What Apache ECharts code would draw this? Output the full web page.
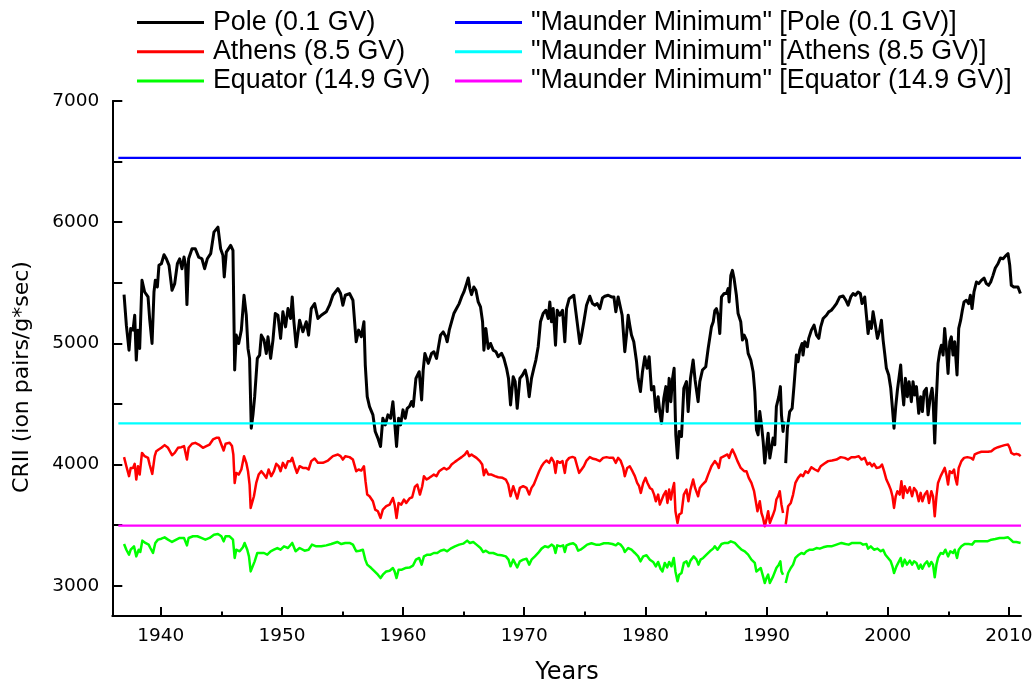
<!DOCTYPE html>
<html>
<head>
<meta charset="utf-8">
<script src="https://cdn.jsdelivr.net/npm/echarts@6/dist/echarts.min.js"></script>
<style>
html,body{margin:0;padding:0;background:#fff;}
#chart{width:1035px;height:684px;}
</style>
</head>
<body>
<div id="chart"></div>
<script>
// ---- data (year, CRII) ----
const poleData = [
[1936.97,5402],[1937.16,5150],[1937.38,4944],[1937.52,5123],[1937.71,5109],[1937.85,5232],[1937.98,4862],[1938.12,5109],[1938.26,4958],[1938.45,5520],[1938.67,5424],[1938.95,5383],[1939.08,5205],[1939.28,4999],[1939.44,5424],[1939.55,5520],[1939.72,5465],[1939.85,5644],[1940.05,5657],[1940.27,5731],[1940.46,5698],[1940.68,5644],[1940.93,5438],[1941.15,5493],[1941.37,5657],[1941.56,5698],[1941.75,5616],[1941.92,5712],[1942.05,5644],[1942.16,5320],[1942.30,5698],[1942.58,5781],[1942.85,5781],[1943.13,5712],[1943.40,5698],[1943.62,5616],[1943.84,5698],[1944.12,5740],[1944.39,5918],[1944.72,5959],[1944.94,5781],[1945.13,5726],[1945.24,5548],[1945.41,5753],[1945.77,5808],[1945.96,5767],[1946.10,4780],[1946.23,5068],[1946.43,4999],[1946.65,5109],[1946.87,5397],[1947.06,5232],[1947.20,4958],[1947.33,4876],[1947.47,4300],[1947.61,4410],[1947.75,4560],[1947.97,4876],[1948.16,4903],[1948.30,5068],[1948.52,5027],[1948.71,4917],[1948.85,5054],[1949.07,4876],[1949.26,5027],[1949.45,5246],[1949.67,5232],[1949.89,5041],[1950.08,5260],[1950.30,5136],[1950.50,5287],[1950.72,5205],[1950.85,5383],[1950.99,5178],[1951.18,4972],[1951.46,5191],[1951.73,5095],[1952.01,5178],[1952.20,5068],[1952.42,5287],[1952.70,5328],[1952.97,5205],[1953.25,5232],[1953.66,5260],[1953.93,5315],[1954.21,5397],[1954.62,5452],[1954.84,5411],[1955.03,5315],[1955.23,5397],[1955.58,5411],[1955.86,5356],[1956.13,5013],[1956.33,5109],[1956.55,5054],[1956.77,5178],[1956.88,4821],[1957.04,4560],[1957.23,4478],[1957.51,4410],[1957.70,4273],[1957.92,4218],[1958.14,4149],[1958.33,4382],[1958.53,4327],[1958.75,4410],[1958.97,4382],[1959.16,4519],[1959.30,4355],[1959.46,4149],[1959.63,4382],[1959.79,4327],[1959.99,4451],[1960.18,4382],[1960.34,4464],[1960.53,4480],[1960.70,4519],[1960.84,4480],[1961.06,4711],[1961.33,4766],
[1961.53,4533],[1961.66,4780],[1961.80,4917],[1962.08,4835],[1962.35,4917],[1962.54,4931],[1962.76,4876],[1962.90,4958],[1963.09,5068],[1963.31,5095],[1963.53,5054],[1963.64,5013],[1963.81,5109],[1964.00,5178],[1964.19,5246],[1964.41,5287],[1964.63,5328],[1964.83,5383],[1965.02,5424],[1965.24,5493],[1965.38,5539],[1965.51,5452],[1965.65,5402],[1965.84,5465],[1966.01,5438],[1966.20,5342],[1966.39,5301],[1966.56,5178],[1966.67,4944],[1966.83,5123],[1967.03,4958],[1967.22,4999],[1967.44,4944],[1967.66,4931],[1967.85,4890],[1968.13,4917],[1968.32,4876],[1968.54,4794],[1968.70,4711],[1968.87,4492],[1969.09,4725],[1969.25,4684],[1969.42,4464],[1969.64,4711],[1969.86,4739],[1970.08,4780],[1970.24,4711],[1970.41,4560],[1970.60,4711],[1970.79,4794],[1970.96,4862],[1971.15,4972],[1971.34,5178],[1971.56,5246],[1971.78,5273],[1971.98,5205],[1972.11,5342],[1972.25,5178],[1972.39,5287],[1972.58,4985],[1972.72,5273],[1972.94,5232],[1973.16,5273],[1973.35,5013],[1973.49,5287],[1973.71,5369],[1973.90,5383],[1974.09,5397],[1974.26,5260],[1974.45,5109],[1974.59,4999],[1974.73,5068],[1974.92,5178],[1975.14,5315],[1975.41,5389],[1975.63,5328],[1975.83,5315],[1976.02,5328],[1976.24,5287],[1976.46,5375],[1976.65,5389],[1976.93,5397],[1977.20,5383],[1977.40,5383],[1977.56,5260],[1977.75,5383],[1977.89,5369],[1978.08,5232],[1978.30,4931],[1978.44,5068],[1978.58,5232],[1978.71,5150],[1978.85,5068],[1979.04,5013],[1979.27,4848],[1979.40,4711],[1979.59,4602],[1979.76,4766],[1979.95,4890],[1980.14,4794],[1980.31,4890],[1980.50,4615],[1980.69,4643],[1980.86,4437],[1981.05,4560],[1981.19,4437],[1981.33,4341],[1981.52,4547],[1981.69,4643],[1981.80,4437],[1981.96,4711],[1982.10,4519],[1982.24,4711],[1982.37,4794],[1982.51,4245],[1982.65,4053],[1982.79,4273],[1982.98,4231],[1983.17,4629],[1983.39,4684],[1983.53,4437],[1983.72,4711],[1983.94,4862],[1984.10,4698],[1984.35,4519],[1984.49,4684],[1984.71,4780],[1984.98,4807],[1985.18,4958],[1985.45,5136],[1985.60,5178],
[1985.73,5270],[1985.86,5287],[1986.00,5232],[1986.14,5081],[1986.28,5383],[1986.50,5411],[1986.69,5411],[1986.83,5452],[1986.91,5342],[1987.05,5561],[1987.18,5602],[1987.32,5534],[1987.51,5397],[1987.65,5246],[1987.87,5178],[1988.01,5027],[1988.15,5068],[1988.34,5027],[1988.48,4917],[1988.70,4862],[1988.89,4766],[1989.03,4602],[1989.17,4286],[1989.30,4245],[1989.44,4437],[1989.58,4327],[1989.72,4190],[1989.85,4012],[1989.99,4135],[1990.13,4259],[1990.27,4053],[1990.40,4040],[1990.54,4218],[1990.68,4163],[1990.81,4478],[1991.01,4560],[1991.14,4643],[1991.23,4410],[1991.36,4273],[1991.45,4355],[1991.50,'-'],
[1991.58,4012],[1991.72,4300],[1991.91,4437],[1992.11,4464],[1992.27,4656],[1992.46,4903],[1992.60,4848],[1992.74,4944],[1992.93,4999],[1993.01,4903],[1993.15,5013],[1993.37,4972],[1993.48,5041],[1993.70,5109],[1993.92,5150],[1994.12,5068],[1994.31,5041],[1994.47,5136],[1994.67,5205],[1994.94,5232],[1995.13,5260],[1995.35,5273],[1995.57,5301],[1995.77,5328],[1996.04,5383],[1996.32,5391],[1996.54,5356],[1996.73,5315],[1996.95,5383],[1997.14,5411],[1997.33,5397],[1997.55,5424],[1997.74,5411],[1997.88,5328],[1998.10,5383],[1998.24,5232],[1998.38,5081],[1998.51,5178],[1998.65,5123],[1998.79,5260],[1998.98,5150],[1999.15,5041],[1999.34,5109],[1999.48,5191],[1999.62,5027],[1999.75,4917],[1999.89,4794],[2000.08,4739],[2000.25,4629],[2000.39,4464],[2000.52,4300],[2000.66,4478],[2000.80,4615],[2000.94,4602],[2001.07,4821],[2001.18,4643],[2001.32,4492],[2001.46,4711],[2001.62,4560],[2001.76,4684],[2001.95,4519],[2002.09,4684],[2002.23,4574],[2002.37,4643],[2002.56,4423],[2002.72,4560],[2002.86,4437],[2003.00,4602],[2003.19,4629],[2003.33,4410],[2003.52,4560],[2003.66,4629],[2003.74,4547],[2003.88,4177],[2004.02,4560],[2004.15,4835],[2004.29,4931],[2004.43,4985],[2004.57,4903],[2004.70,5123],[2004.84,4958],[2004.98,4752],[2005.12,5013],[2005.25,5054],[2005.39,4903],[2005.53,5013],[2005.72,4739],[2005.86,5123],[2006.02,5191],[2006.16,5273],[2006.30,5342],[2006.49,5356],[2006.68,5328],[2006.82,5397],[2006.96,5287],[2007.12,5424],[2007.32,5506],[2007.51,5493],[2007.73,5520],[2007.95,5539],[2008.14,5493],[2008.33,5479],[2008.50,5506],[2008.69,5561],[2008.88,5622],[2009.10,5657],[2009.30,5704],[2009.52,5698],[2009.71,5720],[2009.93,5740],[2010.07,5644],[2010.20,5479],[2010.40,5465],[2010.56,5452],[2010.75,5465],[2010.95,5411]
];

const athensData = [
[1936.97,4061],[1937.16,3986],[1937.38,3904],[1937.52,3972],[1937.71,3972],[1937.85,4006],[1937.98,3876],[1938.12,3986],[1938.26,3917],[1938.45,4096],[1938.67,4069],[1938.95,4055],[1939.08,4000],[1939.30,3923],[1939.50,4069],[1939.63,4110],[1939.83,4124],[1940.05,4138],[1940.32,4160],[1940.60,4138],[1940.93,4077],[1941.15,4096],[1941.42,4138],[1941.70,4143],[1941.92,4152],[1942.05,4138],[1942.16,4041],[1942.30,4138],[1942.58,4171],[1942.85,4179],[1943.13,4165],[1943.48,4138],[1943.76,4152],[1944.03,4165],[1944.31,4207],[1944.58,4220],[1944.80,4220],[1945.00,4165],[1945.19,4116],[1945.35,4171],[1945.68,4179],[1945.88,4152],[1945.99,4083],[1946.10,3848],[1946.23,3931],[1946.43,3917],[1946.65,3959],[1946.87,4069],[1947.06,4014],[1947.20,3945],[1947.33,3835],[1947.42,3642],[1947.55,3656],[1947.69,3738],[1947.88,3848],[1948.08,3917],[1948.30,3945],[1948.52,3917],[1948.71,3890],[1948.90,3959],[1949.12,3904],[1949.34,3945],[1949.53,4006],[1949.73,3986],[1949.89,3945],[1950.08,4014],[1950.30,3972],[1950.50,4028],[1950.72,4028],[1950.85,4055],[1951.05,3986],[1951.24,3931],[1951.46,3986],[1951.73,3972],[1952.01,3972],[1952.20,3959],[1952.42,4028],[1952.70,4050],[1952.97,4014],[1953.38,4014],[1953.80,4033],[1954.21,4069],[1954.62,4083],[1954.84,4069],[1955.03,4041],[1955.23,4069],[1955.58,4061],[1955.86,4041],[1956.13,3945],[1956.33,3959],[1956.55,3950],[1956.77,3986],[1956.90,3862],[1957.04,3752],[1957.23,3738],[1957.51,3697],[1957.70,3628],[1957.92,3614],[1958.14,3559],[1958.33,3628],[1958.61,3656],[1958.89,3669],[1959.16,3724],[1959.30,3669],[1959.46,3559],[1959.63,3683],[1959.85,3669],[1960.07,3711],[1960.26,3683],[1960.53,3720],[1960.75,3730],[1960.97,3815],[1961.17,3835],[1961.39,3752],
[1961.58,3821],[1961.72,3904],[1961.94,3876],[1962.16,3890],[1962.35,3904],[1962.54,3917],[1962.76,3904],[1962.98,3945],[1963.18,3959],[1963.37,3972],[1963.59,3959],[1963.81,3972],[1964.00,4000],[1964.28,4022],[1964.55,4041],[1964.83,4061],[1965.10,4083],[1965.29,4110],[1965.46,4069],[1965.65,4083],[1965.84,4069],[1966.06,4055],[1966.34,4028],[1966.53,4000],[1966.67,3912],[1966.83,3959],[1967.03,3917],[1967.30,3917],[1967.58,3904],[1967.85,3895],[1968.21,3890],[1968.48,3876],[1968.68,3835],[1968.87,3738],[1969.09,3821],[1969.25,3807],[1969.42,3719],[1969.64,3807],[1969.91,3821],[1970.19,3807],[1970.41,3752],[1970.60,3807],[1970.79,3835],[1971.01,3890],[1971.23,3945],[1971.43,3986],[1971.62,4014],[1971.84,4033],[1972.06,4014],[1972.25,4055],[1972.44,4022],[1972.58,3931],[1972.72,4028],[1972.94,4014],[1973.16,4028],[1973.35,3931],[1973.49,4028],[1973.71,4055],[1973.98,4063],[1974.18,4055],[1974.37,3986],[1974.53,3931],[1974.73,3959],[1974.92,3986],[1975.14,4033],[1975.41,4061],[1975.69,4047],[1975.96,4041],[1976.24,4028],[1976.51,4055],[1976.79,4061],[1977.06,4055],[1977.34,4055],[1977.56,4014],[1977.75,4055],[1977.95,4033],[1978.17,3972],[1978.30,3904],[1978.50,3972],[1978.71,3986],[1978.93,3945],[1979.13,3904],[1979.32,3848],[1979.48,3821],[1979.62,3766],[1979.82,3848],[1980.01,3890],[1980.17,3848],[1980.37,3807],[1980.56,3793],[1980.72,3752],[1980.86,3697],[1981.05,3752],[1981.19,3669],[1981.33,3656],[1981.52,3752],[1981.69,3780],[1981.82,3683],[1981.96,3793],[1982.10,3711],[1982.24,3793],[1982.37,3848],[1982.48,3614],[1982.65,3518],[1982.79,3587],[1982.98,3600],[1983.17,3752],[1983.39,3793],[1983.55,3697],[1983.72,3793],[1983.94,3876],[1984.10,3807],[1984.35,3738],[1984.49,3807],[1984.71,3835],[1984.98,3862],[1985.18,3917],[1985.45,3986],
[1985.73,4028],[1985.95,4000],[1986.06,3972],[1986.22,4055],[1986.50,4069],[1986.77,4083],[1986.91,4055],[1987.05,4096],[1987.18,4124],[1987.38,4083],[1987.60,4028],[1987.87,3972],[1988.15,3945],[1988.34,3945],[1988.53,3890],[1988.75,3848],[1988.97,3780],[1989.11,3697],[1989.25,3614],[1989.44,3697],[1989.58,3600],[1989.71,3559],[1989.85,3490],[1989.99,3545],[1990.13,3614],[1990.27,3518],[1990.40,3504],[1990.54,3587],[1990.68,3628],[1990.81,3711],[1990.95,3738],[1991.09,3780],[1991.23,3669],[1991.36,3600],[1991.47,'-'],
[1991.58,3504],[1991.78,3656],[1992.00,3683],[1992.19,3752],[1992.38,3848],[1992.60,3890],[1992.82,3917],[1993.01,3904],[1993.21,3945],[1993.43,3931],[1993.70,3978],[1993.98,3959],[1994.25,3945],[1994.47,3986],[1994.75,4006],[1995.08,4028],[1995.41,4033],[1995.77,4041],[1996.12,4061],[1996.45,4055],[1996.73,4041],[1997.00,4061],[1997.33,4061],[1997.61,4069],[1997.83,4041],[1998.10,4055],[1998.32,4000],[1998.51,4014],[1998.71,3986],[1998.87,4006],[1999.07,3972],[1999.34,3978],[1999.53,4000],[1999.70,3945],[1999.89,3876],[2000.08,3835],[2000.25,3793],[2000.39,3738],[2000.52,3642],[2000.66,3738],[2000.80,3780],[2000.99,3752],[2001.13,3862],[2001.27,3724],[2001.40,3821],[2001.62,3766],[2001.82,3813],[2002.01,3738],[2002.17,3807],[2002.37,3780],[2002.56,3697],[2002.72,3766],[2002.86,3697],[2003.05,3752],[2003.25,3780],[2003.41,3683],[2003.60,3780],[2003.74,3738],[2003.88,3573],[2004.02,3738],[2004.15,3848],[2004.37,3904],[2004.51,3890],[2004.70,3972],[2004.84,3917],[2004.98,3835],[2005.12,3945],[2005.31,3931],[2005.47,3959],[2005.58,3890],[2005.72,3835],[2005.86,3972],[2006.08,4028],[2006.30,4055],[2006.57,4061],[2006.85,4055],[2007.04,4041],[2007.18,4083],[2007.45,4096],[2007.73,4105],[2008.00,4105],[2008.28,4105],[2008.55,4110],[2008.83,4132],[2009.10,4143],[2009.38,4152],[2009.65,4160],[2009.93,4165],[2010.07,4138],[2010.20,4096],[2010.42,4083],[2010.62,4088],[2010.81,4083],[2010.97,4069]
];

const equatorData = [
[1936.97,3344],[1937.16,3297],[1937.38,3256],[1937.52,3297],[1937.79,3325],[1937.98,3242],[1938.18,3297],[1938.31,3278],[1938.48,3372],[1938.73,3353],[1939.00,3339],[1939.14,3311],[1939.36,3270],[1939.55,3353],[1939.77,3380],[1940.05,3388],[1940.32,3399],[1940.60,3380],[1940.93,3361],[1941.28,3380],[1941.56,3394],[1941.92,3394],[1942.05,3388],[1942.16,3333],[1942.30,3394],[1942.66,3408],[1943.02,3408],[1943.35,3394],[1943.68,3380],[1944.03,3394],[1944.39,3421],[1944.72,3427],[1945.00,3408],[1945.19,3366],[1945.35,3408],[1945.68,3408],[1945.96,3380],[1946.10,3229],[1946.23,3297],[1946.51,3284],[1946.78,3317],[1946.92,3353],[1947.14,3297],[1947.28,3242],[1947.42,3118],[1947.55,3132],[1947.75,3201],[1947.97,3270],[1948.24,3270],[1948.52,3270],[1948.79,3256],[1949.07,3284],[1949.34,3297],[1949.62,3311],[1949.89,3297],[1950.17,3325],[1950.50,3311],[1950.85,3353],[1951.13,3284],[1951.46,3311],[1951.87,3289],[1952.20,3297],[1952.48,3339],[1952.83,3325],[1953.25,3325],[1953.66,3333],[1954.07,3344],[1954.57,3361],[1954.90,3344],[1955.23,3353],[1955.58,3353],[1955.86,3339],[1956.13,3284],[1956.41,3289],[1956.68,3297],[1956.88,3215],[1957.04,3174],[1957.37,3146],[1957.65,3118],[1957.92,3091],[1958.14,3063],[1958.33,3091],[1958.61,3118],[1958.89,3124],[1959.16,3146],[1959.30,3118],[1959.46,3063],[1959.63,3132],[1959.90,3132],[1960.18,3146],[1960.53,3150],[1960.81,3165],[1961.06,3215],[1961.33,3229],
[1961.53,3174],[1961.72,3242],[1962.00,3256],[1962.27,3256],[1962.54,3270],[1962.82,3270],[1963.09,3289],[1963.37,3297],[1963.64,3284],[1963.92,3306],[1964.28,3325],[1964.63,3339],[1964.96,3347],[1965.29,3372],[1965.51,3353],[1965.79,3361],[1966.06,3339],[1966.39,3311],[1966.61,3278],[1966.83,3289],[1967.11,3270],[1967.44,3270],[1967.77,3256],[1968.13,3251],[1968.48,3242],[1968.70,3215],[1968.87,3160],[1969.09,3215],[1969.25,3201],[1969.42,3151],[1969.64,3201],[1969.91,3215],[1970.19,3223],[1970.41,3174],[1970.60,3215],[1970.88,3242],[1971.15,3270],[1971.43,3306],[1971.70,3325],[1971.98,3317],[1972.25,3339],[1972.44,3325],[1972.58,3270],[1972.72,3333],[1972.99,3325],[1973.21,3333],[1973.35,3278],[1973.49,3333],[1973.76,3344],[1974.04,3350],[1974.26,3333],[1974.45,3289],[1974.64,3297],[1974.92,3317],[1975.19,3339],[1975.55,3350],[1975.91,3339],[1976.24,3339],[1976.57,3350],[1976.93,3350],[1977.28,3344],[1977.56,3333],[1977.75,3350],[1977.95,3339],[1978.17,3311],[1978.30,3278],[1978.58,3311],[1978.85,3297],[1979.13,3270],[1979.40,3242],[1979.59,3201],[1979.82,3242],[1980.09,3251],[1980.37,3215],[1980.64,3196],[1980.86,3160],[1981.05,3196],[1981.25,3140],[1981.41,3118],[1981.60,3188],[1981.80,3151],[1981.96,3196],[1982.15,3160],[1982.34,3229],[1982.48,3118],[1982.65,3036],[1982.79,3091],[1982.98,3105],[1983.17,3188],[1983.39,3201],[1983.55,3160],[1983.72,3207],[1983.99,3242],[1984.22,3215],[1984.38,3174],[1984.55,3215],[1984.77,3229],[1985.04,3256],[1985.32,3284],[1985.59,3306],
[1985.73,3325],[1985.95,3297],[1986.06,3289],[1986.28,3344],[1986.55,3353],[1986.83,3353],[1987.05,3366],[1987.18,3380],[1987.38,3353],[1987.65,3325],[1987.93,3297],[1988.20,3284],[1988.48,3256],[1988.75,3215],[1989.03,3188],[1989.16,3118],[1989.30,3105],[1989.52,3146],[1989.71,3077],[1989.85,3022],[1989.99,3063],[1990.13,3091],[1990.27,3022],[1990.40,3036],[1990.54,3077],[1990.68,3091],[1990.81,3146],[1991.01,3174],[1991.14,3201],[1991.23,3118],[1991.36,3091],[1991.47,'-'],
[1991.58,3022],[1991.78,3105],[1992.00,3146],[1992.19,3174],[1992.38,3229],[1992.60,3251],[1992.88,3270],[1993.10,3262],[1993.29,3284],[1993.56,3297],[1993.84,3297],[1994.12,3311],[1994.39,3306],[1994.67,3317],[1995.02,3325],[1995.35,3325],[1995.77,3339],[1996.18,3353],[1996.51,3344],[1996.78,3339],[1997.06,3353],[1997.42,3353],[1997.75,3353],[1997.97,3339],[1998.24,3344],[1998.38,3306],[1998.60,3325],[1998.87,3297],[1999.15,3306],[1999.42,3284],[1999.62,3297],[1999.81,3256],[2000.03,3229],[2000.25,3201],[2000.39,3160],[2000.52,3105],[2000.72,3160],[2000.85,3174],[2001.07,3229],[2001.21,3160],[2001.40,3215],[2001.59,3174],[2001.82,3207],[2002.01,3174],[2002.17,3201],[2002.37,3188],[2002.56,3140],[2002.72,3174],[2002.86,3140],[2003.05,3179],[2003.25,3201],[2003.41,3160],[2003.60,3196],[2003.74,3174],[2003.88,3069],[2004.02,3174],[2004.15,3229],[2004.37,3270],[2004.57,3262],[2004.76,3297],[2004.98,3242],[2005.17,3284],[2005.39,3270],[2005.53,3297],[2005.72,3229],[2005.86,3297],[2006.08,3325],[2006.35,3344],[2006.68,3344],[2006.96,3339],[2007.18,3366],[2007.51,3366],[2007.87,3366],[2008.22,3366],[2008.55,3380],[2008.88,3385],[2009.24,3394],[2009.60,3394],[2009.93,3399],[2010.15,3380],[2010.34,3361],[2010.62,3361],[2010.97,3353]
];

// "Maunder Minimum" levels
const mmYears = [1936.5, 2011];
const mmPole = 6530;
const mmAthens = 4340;
const mmEquator = 3495;

const seriesNames = ['Pole (0.1 GV)', 'Athens (8.5 GV)', 'Equator (14.9 GV)'];
const mmNames = ['"Maunder Minimum" [Pole (0.1 GV)]', '"Maunder Minimum" [Athens (8.5 GV)]', '"Maunder Minimum" [Equator (14.9 GV)]'];

const xLabelYears = [1940, 1950, 1960, 1970, 1980, 1990, 2000, 2010];
const xMinorYears = [1945, 1955, 1965, 1975, 1985, 1995, 2005];
const yLabelValues = [3000, 4000, 5000, 6000, 7000];
const yTickValues = [3000, 3500, 4000, 4500, 5000, 5500, 6000, 6500, 7000];

const FONT = 'DejaVu Sans';
const LEGEND_FONT = 'Liberation Sans';

function lineSeries(name, data, color, width) {
  return {
    name: name, type: 'line', data: data, color: color,
    showSymbol: false, symbol: 'none', connectNulls: false,
    lineStyle: { color: color, width: width, join: 'round' },
    emphasis: { disabled: true }, silent: true, animation: false
  };
}
function flat(v) { return mmYears.map(y => [y, v]); }

const legendText = { fontFamily: LEGEND_FONT, fontSize: 26.8, color: '#000', lineHeight: 29.2, padding: [0, 0, 0, 4] };

const chart = echarts.init(document.getElementById('chart'), null, { renderer: 'canvas' });
chart.setOption({
  animation: false,
  backgroundColor: '#ffffff',
  grid: { left: 112.3, right: 14, top: 101, bottom: 68, containLabel: false, outerBoundsMode: 'none' },
  legend: [
    { data: seriesNames, orient: 'vertical', left: 137, top: 8, padding: 0, itemGap: 0,
      itemWidth: 67, itemHeight: 3, icon: 'rect', selectedMode: false, textStyle: legendText },
    { data: mmNames, orient: 'vertical', left: 455, top: 8, padding: 0, itemGap: 0,
      itemWidth: 67, itemHeight: 3, icon: 'rect', selectedMode: false, textStyle: legendText }
  ],
  xAxis: [
    {
      type: 'value', min: 1936, max: 2011, position: 'bottom', offset: 0,
      axisLine: { show: true, onZero: false, lineStyle: { color: '#000', width: 2 } },
      axisTick: { show: true, inside: true, length: 9, lineStyle: { color: '#000', width: 2 }, customValues: xLabelYears },
      axisLabel: { show: true, customValues: xLabelYears, formatter: v => String(v), margin: 11, fontFamily: FONT, fontSize: 18.5, color: '#000' },
      splitLine: { show: false }
    },
    {
      type: 'value', min: 1936, max: 2011, position: 'bottom', offset: 0,
      axisLine: { show: false, onZero: false },
      axisTick: { show: true, inside: true, length: 4.5, lineStyle: { color: '#000', width: 2 }, customValues: xMinorYears },
      axisLabel: { show: false },
      splitLine: { show: false }
    }
  ],
  yAxis: {
    type: 'value', min: 2750, max: 7000,
    axisLine: { show: true, onZero: false, lineStyle: { color: '#000', width: 2 } },
    axisTick: { show: true, inside: true, length: 10, lineStyle: { color: '#000', width: 2 }, customValues: yTickValues },
    axisLabel: { show: true, customValues: yLabelValues, formatter: v => String(v), margin: 13, fontFamily: FONT, fontSize: 18.5, color: '#000' },
    splitLine: { show: false }
  },
  graphic: [
    { type: 'text', x: 567, y: 673, silent: true,
      style: { text: 'Years', fontFamily: FONT, fontSize: 24, fill: '#000', align: 'center', verticalAlign: 'middle' } },
    { type: 'text', x: 22.5, y: 377, rotation: Math.PI / 2, silent: true,
      style: { text: 'CRII (ion pairs/g*sec)', fontFamily: FONT, fontSize: 22, fill: '#000', align: 'center', verticalAlign: 'middle' } }
  ],
  series: [
    lineSeries(seriesNames[0], poleData, '#000000', 3),
    lineSeries(seriesNames[1], athensData, '#ff0000', 2.5),
    lineSeries(seriesNames[2], equatorData, '#00ff00', 2.5),
    lineSeries(mmNames[0], flat(mmPole), '#0000ff', 2.3),
    lineSeries(mmNames[1], flat(mmAthens), '#00ffff', 2.3),
    lineSeries(mmNames[2], flat(mmEquator), '#ff00ff', 2.3)
  ]
});
</script>
</body>
</html>
